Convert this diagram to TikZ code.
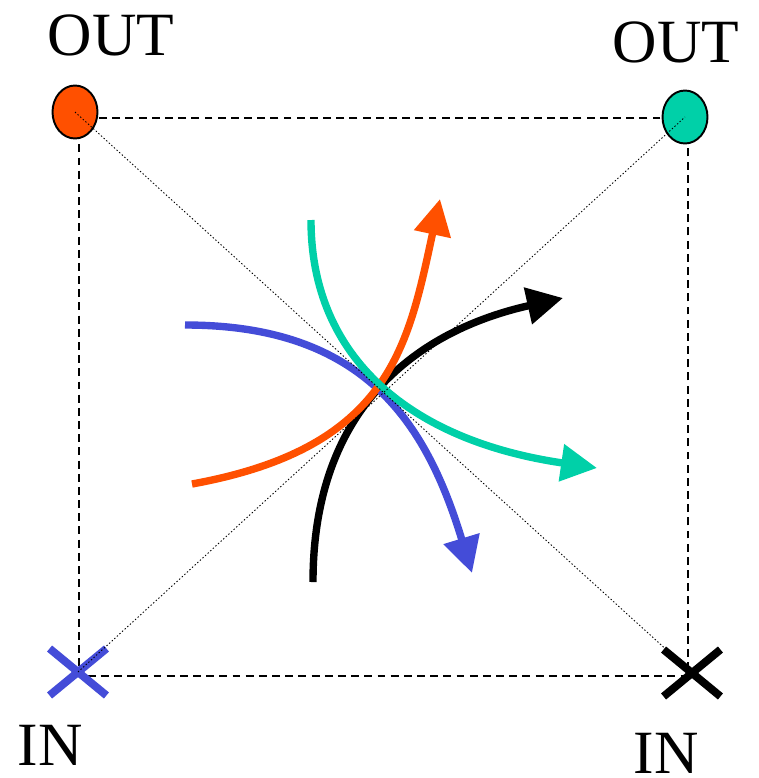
\documentclass[tikz,border=0pt]{standalone}
\usepackage{fontspec}
\setmainfont{Liberation Serif}
\usetikzlibrary{arrows.meta, shapes.geometric, shapes.misc}

\definecolor{outorange}{RGB}{255,80,0}
\definecolor{outteal}{RGB}{0,208,168}
\definecolor{inblue}{RGB}{68,76,216}

\begin{document}
\begin{tikzpicture}[
  x=0.02cm, y=-0.02cm,
  port/.style={ellipse, draw, line width=1.1pt, fill=#1, inner sep=0pt, minimum width=0.9cm, minimum height=1.06cm},
  inmark/.style={cross out, draw=#1, line width=4.5pt, inner sep=0pt, minimum width=0.98cm, minimum height=0.78cm},
  frameline/.style={dashed, line width=0.75pt, dash pattern=on 4.5pt off 3pt},
  diag/.style={line width=0.5pt, dash pattern=on 0.8pt off 1.2pt},
  flow/.style={draw=#1, line width=4.2pt, -{Triangle[length=0.72cm, width=0.72cm]}},
  lbl/.style={anchor=base, inner sep=0pt, font=\fontsize{35}{40}\selectfont},
]
\useasboundingbox (0,0) rectangle (759,778);

% Frame corners
\coordinate (tl) at (79,118);
\coordinate (br) at (688,676);
\draw[frameline] (tl) rectangle (br);

% Ports
\node[port=outorange] (outL) at (75,112) {};
\node[port=outteal] (outR) at (685,117) {};
\node[inmark=inblue] (inL) at (78,672) {};
\node[inmark=black] (inR) at (692,673) {};

% Labels
\node[lbl] (outLtxt) at (111,55) {OUT};
\node[lbl] (outRtxt) at (676,62) {OUT};
\node[lbl] (inLtxt) at (50,765) {IN};
\node[lbl] (inRtxt) at (666,773) {IN};

% Curve ends
\coordinate (blackS) at (313,582);
\coordinate (blackE) at (563,298);
\coordinate (blueS) at (185,325);
\coordinate (blueE) at (472,573);
\coordinate (orangeS) at (192,484);
\coordinate (orangeE) at (440,199);
\coordinate (tealS) at (311,220);
\coordinate (tealE) at (597,468);

% Curves
\draw[flow=black] (blackS) .. controls (313,405) and (420,330) .. (blackE);
\draw[flow=inblue] (blueS) .. controls (364,325) and (426,422) .. (blueE);
\draw[flow=outorange] (orangeS) .. controls (390,448) and (408,347) .. (orangeE);
\draw[flow=outteal] (tealS) .. controls (311,359) and (412,441) .. (tealE);

% Diagonals
\draw[diag] (outL.center) -- (inR.center);
\draw[diag] (inL.center) -- (outR.center);

\end{tikzpicture}
\end{document}
